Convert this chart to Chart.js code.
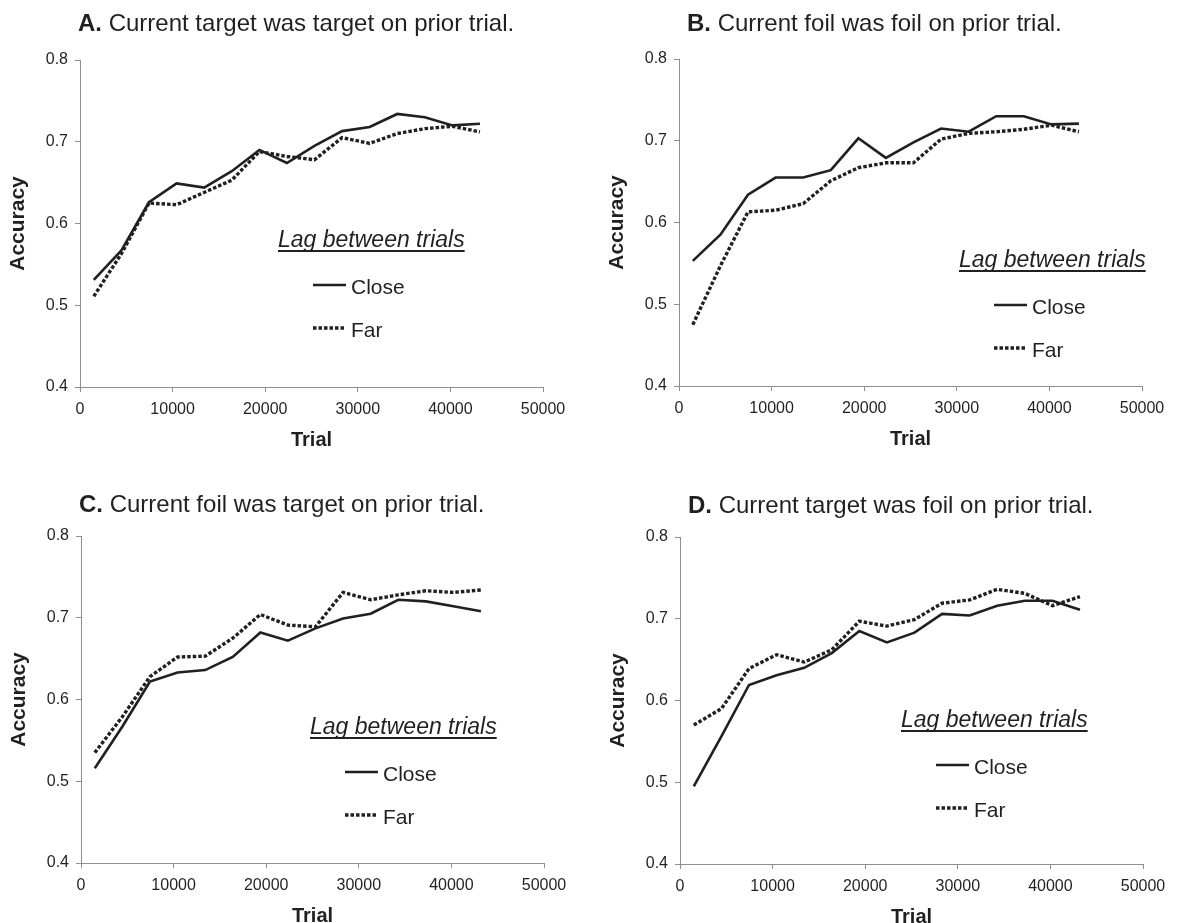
<!DOCTYPE html>
<html>
<head>
<meta charset="utf-8">
<script src="https://cdn.jsdelivr.net/npm/chart.js@4.4.1/dist/chart.umd.min.js"></script>
<style>
  html, body { margin: 0; padding: 0; background: #fff; width: 1178px; height: 923px; overflow: hidden; position: relative; }
  canvas { position: absolute; }
</style>
</head>
<body>
<script>
// trial bins (x) shared by every panel
const trials = [1490, 4470, 7450, 10430, 13410, 16390, 19370, 22340, 25320, 28300, 31280, 34260, 37240, 40220, 43190];

const closeA = [0.531, 0.567, 0.626, 0.649, 0.644, 0.664, 0.690, 0.674, 0.695, 0.713, 0.718, 0.734, 0.730, 0.720, 0.722];
const farA   = [0.511, 0.563, 0.625, 0.623, 0.638, 0.653, 0.688, 0.682, 0.678, 0.705, 0.698, 0.710, 0.716, 0.719, 0.712];

const closeB = [0.553, 0.585, 0.634, 0.655, 0.655, 0.664, 0.703, 0.679, 0.698, 0.715, 0.711, 0.730, 0.730, 0.720, 0.721];
const farB   = [0.475, 0.547, 0.613, 0.615, 0.623, 0.651, 0.667, 0.673, 0.673, 0.702, 0.709, 0.711, 0.714, 0.719, 0.711];

const closeC = [0.516, 0.567, 0.622, 0.633, 0.636, 0.652, 0.682, 0.672, 0.687, 0.699, 0.705, 0.722, 0.720, 0.714, 0.708];
const farC   = [0.535, 0.579, 0.628, 0.652, 0.653, 0.675, 0.704, 0.691, 0.689, 0.731, 0.722, 0.728, 0.733, 0.731, 0.734];

const closeD = [0.495, 0.556, 0.619, 0.631, 0.640, 0.658, 0.685, 0.671, 0.683, 0.706, 0.704, 0.716, 0.722, 0.722, 0.711];
const farD   = [0.570, 0.590, 0.639, 0.656, 0.647, 0.662, 0.697, 0.691, 0.699, 0.719, 0.723, 0.736, 0.731, 0.716, 0.727];

const panelLetters = ['A.', 'B.', 'C.', 'D.'];
const panelTitles = [
  'Current target was target on prior trial.',
  'Current foil was foil on prior trial.',
  'Current foil was target on prior trial.',
  'Current target was foil on prior trial.'
];
const seriesNames = ['Close', 'Far'];
const legendTitle = 'Lag between trials';
const xTitle = 'Trial';
const yTitle = 'Accuracy';

const FONT = '"Liberation Sans", Arial, Helvetica, sans-serif';
const INK = '#231f20';
const AXIS = '#8e8e8e';

// page placement of each panel canvas + where its title / legend sit (canvas px)
const panels = [
  { close: closeA, far: farA, left: 0,   top: 0,   titleX: 78,  titleY: 31, legX: 278, legY: 247 },
  { close: closeB, far: farB, left: 599, top: -1,  titleX: 88,  titleY: 32, legX: 360, legY: 268 },
  { close: closeC, far: farC, left: 1,   top: 476, titleX: 78,  titleY: 36, legX: 309, legY: 258 },
  { close: closeD, far: farD, left: 600, top: 477, titleX: 88,  titleY: 36, legX: 301, legY: 250 }
];

const decor = {
  id: 'decor',
  afterDraw(chart, args, o) {
    const ctx = chart.ctx;
    ctx.save();
    ctx.fillStyle = INK;
    ctx.strokeStyle = INK;
    ctx.textBaseline = 'alphabetic';
    ctx.textAlign = 'left';

    // panel title: bold letter then plain text
    ctx.font = 'bold 24px ' + FONT;
    ctx.fillText(o.letter, o.titleX, o.titleY);
    const lw = ctx.measureText(o.letter).width;
    ctx.font = '24px ' + FONT;
    const sp = ctx.measureText(' ').width;
    ctx.fillText(o.title, o.titleX + lw + sp, o.titleY);

    // legend
    ctx.font = 'italic 23px ' + FONT;
    ctx.fillText(legendTitle, o.legX, o.legY);
    const tw = ctx.measureText(legendTitle).width;
    ctx.fillRect(o.legX, o.legY + 3, tw, 2);

    ctx.font = '21px ' + FONT;
    const rows = [{ y: o.legY + 38, dash: [], w: 2.6 }, { y: o.legY + 81, dash: [3.5, 2], w: 3.4 }];
    rows.forEach((r, i) => {
      ctx.beginPath();
      ctx.lineWidth = r.w;
      ctx.setLineDash(r.dash);
      ctx.moveTo(o.legX + 35, r.y);
      ctx.lineTo(o.legX + 68, r.y);
      ctx.stroke();
      ctx.setLineDash([]);
      ctx.fillText(seriesNames[i], o.legX + 73, r.y + 8.5);
    });
    ctx.restore();
  }
};

panels.forEach((p, i) => {
  const canvas = document.createElement('canvas');
  canvas.width = 575;
  canvas.height = 470;
  canvas.style.width = '575px';
  canvas.style.height = '470px';
  canvas.style.left = p.left + 'px';
  canvas.style.top = p.top + 'px';
  document.body.appendChild(canvas);

  new Chart(canvas.getContext('2d'), {
    type: 'line',
    data: {
      datasets: [
        {
          label: seriesNames[0],
          data: trials.map((t, k) => ({ x: t, y: p.close[k] })),
          borderColor: INK,
          borderWidth: 2.6,
          pointRadius: 0,
          tension: 0,
          order: 1
        },
        {
          label: seriesNames[1],
          data: trials.map((t, k) => ({ x: t, y: p.far[k] })),
          borderColor: INK,
          borderWidth: 3.4,
          borderDash: [3.5, 2],
          borderCapStyle: 'butt',
          pointRadius: 0,
          tension: 0,
          order: 2
        }
      ]
    },
    options: {
      responsive: false,
      animation: false,
      devicePixelRatio: 1,
      layout: { padding: { left: 0, top: 60, right: 32, bottom: 0 } },
      plugins: {
        legend: { display: false },
        tooltip: { enabled: false },
        decor: { letter: panelLetters[i], title: panelTitles[i], titleX: p.titleX, titleY: p.titleY, legX: p.legX, legY: p.legY }
      },
      scales: {
        x: {
          type: 'linear',
          min: 0,
          max: 50000,
          afterFit: s => { s.height = 83; },
          ticks: { stepSize: 10000, padding: 8, color: INK, font: { family: FONT, size: 16 }, callback: v => String(v), maxRotation: 0 },
          grid: { drawOnChartArea: false, drawTicks: true, tickLength: 5, color: AXIS },
          border: { display: true, color: AXIS, width: 1 },
          title: { display: true, text: xTitle, color: INK, font: { family: FONT, size: 20, weight: 'bold' }, padding: { top: 0, bottom: 18 } }
        },
        y: {
          min: 0.4,
          max: 0.8,
          afterFit: s => { s.width = 80; },
          ticks: { stepSize: 0.1, padding: 7, color: INK, font: { family: FONT, size: 16 }, callback: v => v.toFixed(1) },
          grid: { drawOnChartArea: false, drawTicks: true, tickLength: 5, color: AXIS },
          border: { display: true, color: AXIS, width: 1 },
          title: { display: true, text: yTitle, color: INK, font: { family: FONT, size: 21, weight: 'bold' }, padding: { top: 6, bottom: 0 } }
        }
      }
    },
    plugins: [decor]
  });
});
</script>
</body>
</html>
